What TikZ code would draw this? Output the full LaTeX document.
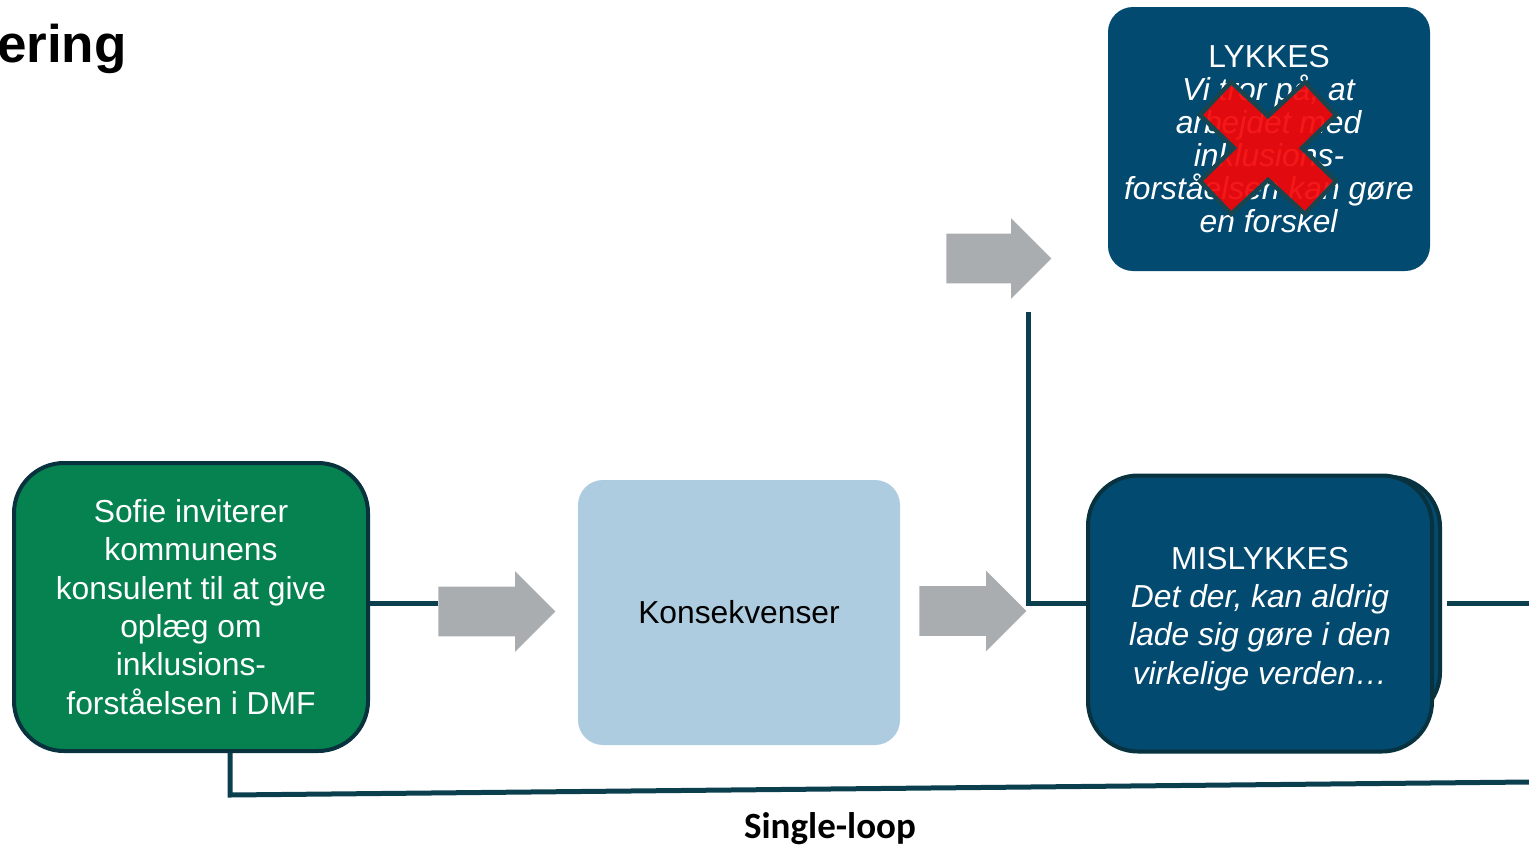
\documentclass[tikz,border=0pt]{standalone}
\usepackage{fontspec}
\setmainfont{Liberation Sans}
\newfontfamily\loopfont{Carlito}
\usetikzlibrary{shapes.arrows}
\definecolor{dmfgreen}{RGB}{5,130,80}
\definecolor{dmfblue}{RGB}{2,74,112}
\definecolor{dmflight}{RGB}{174,204,224}
\definecolor{dmfgray}{RGB}{170,173,176}
\definecolor{dmfteal}{RGB}{11,63,78}
\definecolor{dmfedge}{RGB}{8,50,62}
\definecolor{dmfred}{RGB}{245,5,7}
\definecolor{crossedge}{RGB}{24,70,80}
\tikzset{
  box/.style={rectangle,rounded corners=12.5pt,align=center,inner sep=0pt},
  bigtext/.style={font=\fontsize{15.9}{19.2}\selectfont},
  graybar/.style={single arrow,fill=dmfgray,draw=none,inner xsep=0pt,inner ysep=12.25pt,
    single arrow head extend=7.75pt,minimum width=40pt,anchor=tail},
}
\begin{document}
\begin{tikzpicture}[x=0.5pt,y=-0.5pt]
  \useasboundingbox (0,0) rectangle (1529,846);
  \node[anchor=base east,inner sep=0pt,font=\fontsize{26.5}{31}\selectfont\bfseries] (title) at (127,62) {ering};
  \begin{scope}[every node/.style={box,bigtext}]
    \node[fill=dmfgreen,draw=dmfedge,line width=2pt,rounded corners=25pt,
      minimum width=177pt,minimum height=144pt,text=white] (sofie) at (191,607)
      {Sofie inviterer\\kommunens\\konsulent til at give\\oplæg om\\inklusions-\\forståelsen i DMF};
    \node[fill=dmflight,minimum width=161pt,minimum height=132.5pt] (kons) at (739,612.5) {Konsekvenser};
    \node[fill=dmfblue,minimum width=161pt,minimum height=132pt,text=white,
      font=\fontsize{15.9}{16.5}\selectfont] (lykkes) at (1269,139)
      {LYKKES\\\textit{Vi tror på, at}\\\textit{arbejdet med}\\\textit{inklusions-}\\\textit{forståelsen kan gøre}\\\textit{en forskel}};
    \node[fill=dmfblue,draw=dmfedge,line width=2pt,rounded corners=25pt,
      minimum width=166pt,minimum height=122.5pt] (misback) at (1274,599.5) {};
    \node[fill=dmfblue,draw=dmfedge,line width=2pt,rounded corners=25pt,
      minimum width=172pt,minimum height=138pt,text=white] (mis) at (1260,613.5)
      {\rule{0pt}{16.5pt}MISLYKKES\\\textit{Det der, kan aldrig}\\\textit{lade sig gøre i den}\\\textit{virkelige verden…}};
  \end{scope}
  \begin{scope}[every node/.style={graybar}]
    \node[minimum height=58.5pt] (arr_1) at (438,611.5) {};
    \node[minimum height=53.5pt] (arr_2) at (919,611) {};
    \node[minimum height=52.5pt] (arr_3) at (946,258.5) {};
  \end{scope}
  \coordinate (cross) at (1268,148);
  \begin{scope}[shift={(cross)}]
    \draw[fill=dmfred,fill opacity=0.92,draw=crossedge,line width=2.2pt,line join=miter]
      (0,-32) -- (37,-66) -- (68,-33) -- (34,0) -- (68,33) -- (37,66) -- (0,32)
      -- (-37,66) -- (-68,33) -- (-34,0) -- (-68,-33) -- (-37,-66) -- cycle;
  \end{scope}
  \coordinate (j_1) at (438,603);
  \coordinate (up) at (1028,312);
  \coordinate (j_2) at (1028,603);
  \coordinate (out) at (1529,603);
  \coordinate (loop_l) at (230,795);
  \coordinate (loop_r) at (1529,782);
  \begin{scope}[every path/.style={draw=dmfteal,line width=2.5pt,line join=miter}]
    \path (sofie.east |- j_1) -- (j_1);
    \path (up) -- (j_2) -- (j_2 -| mis.west);
    \path ([xshift=2.5pt]misback.east |- out) -- (out);
    \path (sofie.south -| loop_l) -- (loop_l) -- (loop_r);
  \end{scope}
  \node[inner sep=0pt,font={\loopfont\fontsize{18.5}{22}\selectfont\bfseries}] (single) at (830,829) {Single-loop};
\end{tikzpicture}
\end{document}
